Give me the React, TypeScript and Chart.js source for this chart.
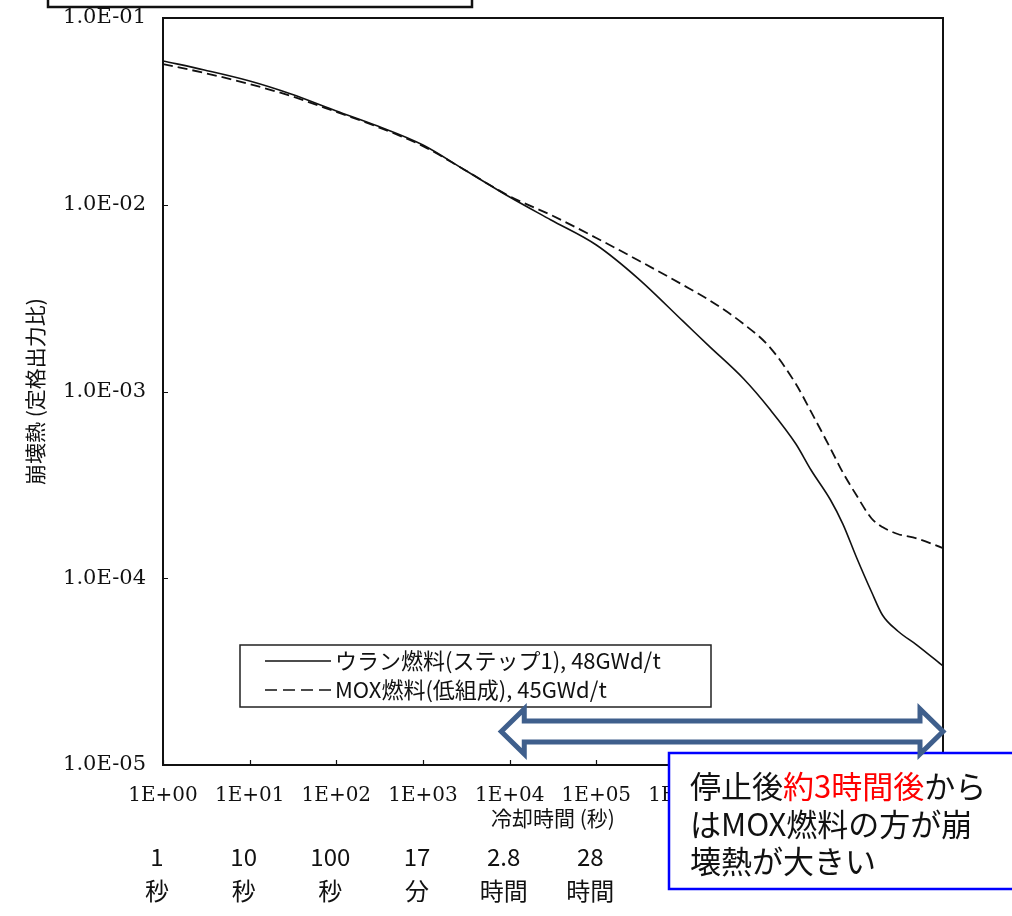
import React, { useEffect, useRef } from "react";
import { Chart, registerables } from "chart.js";

Chart.register(...registerables);

// ---- data ----
const coolingTimes = [1, 3, 10, 30, 100, 300, 1e3, 3e3, 1e4, 3e4, 1e5, 3e5, 1e6, 2e6, 5e6, 1e7, 2e7, 3e7, 5e7, 7e7, 1e8, 1.5e8, 2e8, 3e8, 5e8, 1e9];
const uraniumHeat = [0.0589, 0.0527, 0.046, 0.0392, 0.0318, 0.0264, 0.0209, 0.0154, 0.011, 0.00829, 0.00609, 0.00405, 0.00238, 0.00175, 0.00117, 0.000806, 0.000525, 0.00038, 0.000264, 0.000195, 0.00013, 8.44e-5, 6.36e-5, 5.22e-5, 4.39e-5, 3.39e-5];
const moxHeat = [0.0567, 0.0508, 0.0443, 0.0382, 0.0314, 0.0261, 0.0206, 0.0154, 0.0111, 0.00881, 0.00664, 0.00506, 0.00372, 0.00309, 0.0023, 0.00173, 0.0011, 0.00078, 0.000498, 0.000368, 0.000279, 0.000209, 0.000188, 0.0001726, 0.0001633, 0.000145];

const seriesNames = ["ウラン燃料(ステップ1), 48GWd/t", "MOX燃料(低組成), 45GWd/t"];

const xTickValues = [1, 1e1, 1e2, 1e3, 1e4, 1e5, 1e6, 1e7, 1e8, 1e9];
const xTickLabels = ["1E+00", "1E+01", "1E+02", "1E+03", "1E+04", "1E+05", "1E+06", "1E+07", "1E+08", "1E+09"];
const yTickValues = [1e-5, 1e-4, 1e-3, 1e-2, 1e-1];
const yTickLabels = ["1.0E-05", "1.0E-04", "1.0E-03", "1.0E-02", "1.0E-01"];

const xTitle = "冷却時間 (秒)";
const yTitle = "崩壊熱 (定格出力比)";

const noteTimes = [1, 10, 100, 1e3, 1e4, 1e5];
const noteTop = ["1", "10", "100", "17", "2.8", "28"];
const noteBottom = ["秒", "秒", "秒", "分", "時間", "時間"];

const arrowStart = 8e3;
const arrowEnd = 1e9;

const calloutRow1 = [
  { text: "停止後", red: false },
  { text: "約3時間後", red: true },
  { text: "から", red: false },
];
const calloutRows = ["はMOX燃料の方が崩", "壊熱が大きい"];

const JP = "'Noto Sans CJK JP', 'Noto Sans', sans-serif";
const SERIF = "'DejaVu Serif', 'Liberation Serif', serif";

const decorPlugin = {
  id: "decor",
  beforeDraw(chart: any) {
    const ctx = chart.ctx;
    ctx.save();
    ctx.fillStyle = "#ffffff";
    ctx.fillRect(0, 0, chart.width, chart.height);
    ctx.restore();
  },
  afterDraw(chart: any) {
    const ctx: CanvasRenderingContext2D = chart.ctx;
    const a = chart.chartArea;
    const xs = chart.scales.x;
    const ys = chart.scales.y;
    ctx.save();

    // plot frame
    ctx.strokeStyle = "#111";
    ctx.lineWidth = 2;
    ctx.setLineDash([]);
    ctx.strokeRect(a.left, a.top, a.right - a.left, a.bottom - a.top);

    // inward tick marks
    ctx.lineWidth = 1.2;
    ctx.beginPath();
    yTickValues.forEach((v) => {
      const py = Math.round(ys.getPixelForValue(v)) + 0.5;
      ctx.moveTo(a.left, py);
      ctx.lineTo(a.left + 5, py);
    });
    xTickValues.forEach((v) => {
      const px = Math.round(xs.getPixelForValue(v)) + 0.5;
      ctx.moveTo(px, a.bottom);
      ctx.lineTo(px, a.bottom - 5);
    });
    ctx.stroke();

    // top-left partial box
    ctx.lineWidth = 2.5;
    ctx.strokeStyle = "#111";
    ctx.fillStyle = "#fff";
    ctx.fillRect(48, -5, 424, 12);
    ctx.strokeRect(48, -5, 424, 12);

    // legend
    const lx = 240, ly = 645, lw = 471, lh = 62;
    ctx.fillStyle = "#fff";
    ctx.fillRect(lx, ly, lw, lh);
    ctx.lineWidth = 1.5;
    ctx.strokeStyle = "#222";
    ctx.strokeRect(lx, ly, lw, lh);
    const rows = [661, 690];
    ctx.strokeStyle = "#111";
    ctx.lineWidth = 1.6;
    ctx.beginPath();
    ctx.moveTo(265, rows[0]);
    ctx.lineTo(331, rows[0]);
    ctx.stroke();
    ctx.setLineDash([12, 6]);
    ctx.beginPath();
    ctx.moveTo(265, rows[1]);
    ctx.lineTo(331, rows[1]);
    ctx.stroke();
    ctx.setLineDash([]);
    ctx.fillStyle = "#111";
    ctx.font = `22px ${JP}`;
    ctx.textAlign = "left";
    ctx.textBaseline = "middle";
    seriesNames.forEach((n, i) => ctx.fillText(n, 335, rows[i]));

    // handwritten notes under x axis
    ctx.font = `24px ${JP}`;
    ctx.textAlign = "center";
    noteTimes.forEach((t, i) => {
      const px = xs.getPixelForValue(t) - 6;
      ctx.fillText(noteTop[i], px, 857);
      ctx.fillText(noteBottom[i], px, 891);
    });

    // callout box
    const bx = 669, by = 753, bw = 360, bh = 136;
    ctx.fillStyle = "#fff";
    ctx.fillRect(bx, by, bw, bh);
    ctx.strokeStyle = "#0000ff";
    ctx.lineWidth = 2.5;
    ctx.strokeRect(bx, by, bw, bh);
    ctx.font = `31px ${JP}`;
    ctx.textAlign = "left";
    ctx.textBaseline = "middle";
    let tx = 690;
    calloutRow1.forEach((seg) => {
      ctx.fillStyle = seg.red ? "#ff0000" : "#111";
      ctx.fillText(seg.text, tx, 786);
      tx += ctx.measureText(seg.text).width;
    });
    ctx.fillStyle = "#111";
    ctx.fillText(calloutRows[0], 690, 824);
    ctx.fillText(calloutRows[1], 690, 861);

    // double-headed block arrow
    const x0 = xs.getPixelForValue(arrowStart);
    const x1 = xs.getPixelForValue(arrowEnd);
    const cy = a.bottom - 33.5;
    const head = 23, sh = 10.5, hh = 22.5;
    ctx.beginPath();
    ctx.moveTo(x0, cy);
    ctx.lineTo(x0 + head, cy - hh);
    ctx.lineTo(x0 + head, cy - sh);
    ctx.lineTo(x1 - head, cy - sh);
    ctx.lineTo(x1 - head, cy - hh);
    ctx.lineTo(x1, cy);
    ctx.lineTo(x1 - head, cy + hh);
    ctx.lineTo(x1 - head, cy + sh);
    ctx.lineTo(x0 + head, cy + sh);
    ctx.lineTo(x0 + head, cy + hh);
    ctx.closePath();
    ctx.fillStyle = "#fff";
    ctx.fill();
    ctx.lineJoin = "miter";
    ctx.lineWidth = 5;
    ctx.strokeStyle = "#3f5f8c";
    ctx.stroke();

    ctx.restore();
  },
};

export default function App() {
  const ref = useRef<HTMLCanvasElement>(null);

  useEffect(() => {
    if (!ref.current) return;
    const chart = new Chart(ref.current, {
      type: "line",
      data: {
        datasets: [
          {
            label: seriesNames[0],
            data: coolingTimes.map((t, i) => ({ x: t, y: uraniumHeat[i] })),
            borderColor: "#111",
            borderWidth: 1.6,
            pointRadius: 0,
            cubicInterpolationMode: "monotone",
            fill: false,
          },
          {
            label: seriesNames[1],
            data: coolingTimes.map((t, i) => ({ x: t, y: moxHeat[i] })),
            borderColor: "#111",
            borderWidth: 1.8,
            borderDash: [10, 5],
            pointRadius: 0,
            cubicInterpolationMode: "monotone",
            fill: false,
          },
        ],
      },
      options: {
        responsive: false,
        animation: false,
        layout: { padding: { top: 18, right: 69, left: 0, bottom: 0 } },
        plugins: {
          legend: { display: false },
          tooltip: { enabled: false },
        },
        scales: {
          x: {
            type: "logarithmic",
            min: 1,
            max: 1e9,
            position: "bottom",
            grid: { display: false, drawTicks: false },
            border: { display: false },
            afterBuildTicks: (s: any) => {
              s.ticks = xTickValues.map((v) => ({ value: v }));
            },
            afterFit: (s: any) => {
              s.height = 151;
              s.paddingLeft = 0;
              s.paddingRight = 0;
            },
            ticks: {
              autoSkip: false,
              maxRotation: 0,
              minRotation: 0,
              padding: 19,
              color: "#111",
              font: { family: SERIF, size: 20 },
              callback: (_v: any, i: number) => xTickLabels[i],
            },
            title: {
              display: true,
              text: xTitle,
              color: "#111",
              font: { family: JP, size: 21 },
              padding: { top: 0, bottom: 85 },
            },
          },
          y: {
            type: "logarithmic",
            min: 1e-5,
            max: 1e-1,
            position: "left",
            grid: { display: false, drawTicks: false },
            border: { display: false },
            afterBuildTicks: (s: any) => {
              s.ticks = yTickValues.map((v) => ({ value: v }));
            },
            afterFit: (s: any) => {
              s.width = 163;
              s.paddingTop = 0;
              s.paddingBottom = 0;
            },
            ticks: {
              autoSkip: false,
              padding: 17,
              color: "#111",
              font: { family: SERIF, size: 21 },
              callback: (_v: any, i: number) => yTickLabels[i],
            },
            title: {
              display: true,
              text: yTitle,
              color: "#111",
              font: { family: JP, size: 21 },
              padding: { top: 22, bottom: 0 },
            },
          },
        },
      } as any,
      plugins: [decorPlugin],
    });
    return () => chart.destroy();
  }, []);

  return (
    <div style={{ position: "absolute", left: 0, top: 0, width: 1012, height: 916, background: "#fff" }}>
      <canvas ref={ref} width={1012} height={916} style={{ display: "block", width: 1012, height: 916 }} />
    </div>
  );
}
